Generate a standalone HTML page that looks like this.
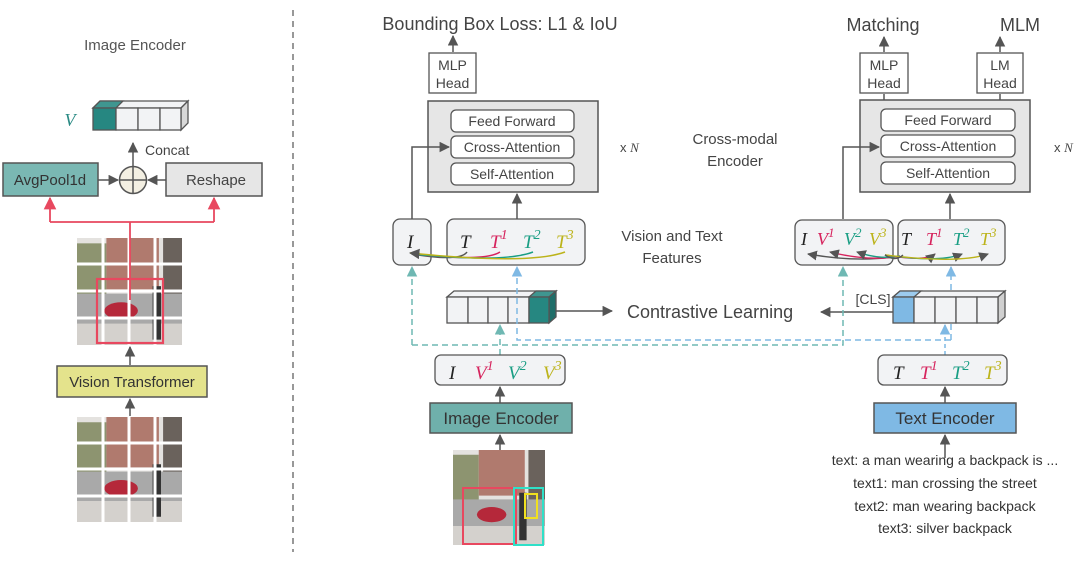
<!DOCTYPE html>
<html><head><meta charset="utf-8"><style>
html,body{margin:0;padding:0;background:#fff}
svg{display:block;font-family:"Liberation Sans",sans-serif}
.m{font-family:"Liberation Serif",serif;font-style:italic}
</style></head><body>
<svg width="1080" height="570" viewBox="0 0 1080 570" xmlns="http://www.w3.org/2000/svg">
<defs>
<marker id="a" viewBox="0 0 10 10" refX="9" refY="5" markerWidth="7" markerHeight="7" orient="auto-start-reverse"><path d="M0,0L10,5L0,10z" fill="#555"/></marker>
<marker id="ar" viewBox="0 0 10 10" refX="9" refY="5" markerWidth="7" markerHeight="7" orient="auto"><path d="M0,0L10,5L0,10z" fill="#e8485f"/></marker>
<marker id="at" viewBox="0 0 10 10" refX="9" refY="5" markerWidth="7" markerHeight="7" orient="auto"><path d="M0,0L10,5L0,10z" fill="#6fb8b3"/></marker>
<marker id="ab" viewBox="0 0 10 10" refX="9" refY="5" markerWidth="7" markerHeight="7" orient="auto"><path d="M0,0L10,5L0,10z" fill="#7fb9e4"/></marker>
<symbol id="ph" viewBox="0 0 100 100" preserveAspectRatio="none">
<rect width="100" height="100" fill="#e4e2df"/>
<rect x="0" y="5" width="28" height="50" fill="#8d9470"/>
<rect x="28" y="0" width="50" height="48" fill="#b07a6e"/>
<rect x="82" y="0" width="18" height="60" fill="#6a625c"/>
<rect x="0" y="52" width="100" height="30" fill="#a9a9a9"/>
<rect x="0" y="80" width="100" height="20" fill="#d4d1cd"/>
<ellipse cx="42" cy="68" rx="16" ry="8" fill="#b5283a"/>
<rect x="72" y="45" width="8" height="50" fill="#333"/>
</symbol>
</defs>

<!-- LEFT PANEL -->
<text x="135" y="50" font-size="15" fill="#555" text-anchor="middle">Image Encoder</text>
<text x="70" y="126" class="m" font-size="18" fill="#2a8a84" text-anchor="middle">V</text>
<g stroke="#555" stroke-width="1.3">
<path d="M93,108 L100,101 L188,101 L181,108z" fill="#f2f3f5"/>
<path d="M93,108 L100,101 L123,101 L116,108z" fill="#3f9690"/>
<path d="M181,108 L188,101 L188,123 L181,130z" fill="#d8d8d8"/>
<rect x="93" y="108" width="23" height="22" fill="#268781"/>
<rect x="116" y="108" width="22" height="22" fill="#f2f3f5"/>
<rect x="138" y="108" width="22" height="22" fill="#f2f3f5"/>
<rect x="160" y="108" width="21" height="22" fill="#f2f3f5"/>
</g>
<line x1="133" y1="166" x2="133" y2="143" stroke="#555" stroke-width="1.5" marker-end="url(#a)"/>
<text x="145" y="155" font-size="14" fill="#444">Concat</text>
<circle cx="133" cy="180" r="13.5" fill="#f3efe2" stroke="#555" stroke-width="1.5"/>
<path d="M119.5,180H146.5M133,166.5V193.5" stroke="#555" stroke-width="1.5"/>
<rect x="3" y="163" width="95" height="33" fill="#7ab8b3" stroke="#555" stroke-width="1.5"/>
<text x="50" y="185" font-size="15" fill="#333" text-anchor="middle">AvgPool1d</text>
<rect x="166" y="163" width="96" height="33" fill="#e6e6e6" stroke="#555" stroke-width="1.5"/>
<text x="216" y="185" font-size="15" fill="#444" text-anchor="middle">Reshape</text>
<line x1="98" y1="180" x2="118" y2="180" stroke="#555" stroke-width="1.5" marker-end="url(#a)"/>
<line x1="166" y1="180" x2="148" y2="180" stroke="#555" stroke-width="1.5" marker-end="url(#a)"/>
<use href="#ph" x="77" y="238" width="105" height="107"/>
<g stroke="#fff" stroke-width="3"><path d="M103,238V345M129,238V345M155,238V345M77,264H182M77,291H182M77,318H182"/></g>
<path d="M130,300V222M50,222H214" stroke="#e8485f" stroke-width="1.8" fill="none"/>
<line x1="50" y1="222" x2="50" y2="198" stroke="#e8485f" stroke-width="1.8" marker-end="url(#ar)"/>
<line x1="214" y1="222" x2="214" y2="198" stroke="#e8485f" stroke-width="1.8" marker-end="url(#ar)"/>
<rect x="97" y="279" width="66" height="64" fill="none" stroke="#e8485f" stroke-width="2.2"/>
<line x1="130" y1="365" x2="130" y2="347" stroke="#555" stroke-width="1.5" marker-end="url(#a)"/>
<rect x="57" y="366" width="150" height="31" fill="#e4e38c" stroke="#555" stroke-width="1.5"/>
<text x="132" y="387" font-size="15" fill="#333" text-anchor="middle">Vision Transformer</text>
<line x1="130" y1="416" x2="130" y2="399" stroke="#555" stroke-width="1.5" marker-end="url(#a)"/>
<use href="#ph" x="77" y="417" width="105" height="105"/>
<g stroke="#fff" stroke-width="3"><path d="M103,417V522M129,417V522M155,417V522M77,443H182M77,469H182M77,496H182"/></g>

<line x1="293" y1="10" x2="293" y2="552" stroke="#777" stroke-width="1.5" stroke-dasharray="6,5"/>

<!-- MIDDLE -->
<text x="500" y="30" font-size="18" fill="#444" text-anchor="middle">Bounding Box Loss: L1 &amp; IoU</text>
<line x1="453" y1="52" x2="453" y2="36" stroke="#555" stroke-width="1.5" marker-end="url(#a)"/>
<rect x="429" y="53" width="47" height="40" fill="#fff" stroke="#555" stroke-width="1.3"/>
<text x="452.5" y="70" font-size="14" fill="#444" text-anchor="middle">MLP</text>
<text x="452.5" y="88" font-size="14" fill="#444" text-anchor="middle">Head</text>
<rect x="428" y="101" width="170" height="91" fill="#e6e6e6" stroke="#555" stroke-width="1.5"/>
<g fill="#fff" stroke="#555" stroke-width="1.3">
<rect x="451" y="110" width="123" height="22" rx="5"/><rect x="451" y="136" width="123" height="22" rx="5"/><rect x="451" y="163" width="123" height="22" rx="5"/></g>
<g font-size="14" fill="#444" text-anchor="middle"><text x="512" y="126">Feed Forward</text><text x="512" y="152">Cross-Attention</text><text x="512" y="179">Self-Attention</text></g>
<text x="620" y="152" font-size="13" fill="#444">x <tspan class="m">N</tspan></text>
<text x="735" y="144" font-size="15" fill="#444" text-anchor="middle">Cross-modal</text>
<text x="735" y="166" font-size="15" fill="#444" text-anchor="middle">Encoder</text>

<path d="M412,219V147H449" stroke="#555" stroke-width="1.5" fill="none" marker-end="url(#a)"/>
<line x1="517" y1="219" x2="517" y2="194" stroke="#555" stroke-width="1.5" marker-end="url(#a)"/>
<rect x="393" y="219" width="38" height="46" rx="7" fill="#f2f3f5" stroke="#555" stroke-width="1.3"/>
<rect x="447" y="219" width="138" height="46" rx="7" fill="#f2f3f5" stroke="#555" stroke-width="1.3"/>
<g class="m" font-size="19"><text x="407" y="248" fill="#222">I</text>
<text x="460" y="248" fill="#222">T</text>
<text x="490" y="248" fill="#d6235d">T<tspan font-size="14" dy="-9">1</tspan></text>
<text x="523" y="248" fill="#1a9e84">T<tspan font-size="14" dy="-9">2</tspan></text>
<text x="556" y="248" fill="#bcb31a">T<tspan font-size="14" dy="-9">3</tspan></text></g>
<g fill="none" stroke-width="1.5">
<path d="M467,252 Q460,262 412,254" stroke="#555"/>
<path d="M500,252 Q485,262 412,254" stroke="#d6235d"/>
<path d="M533,252 Q505,263 412,254" stroke="#1a9e84"/>
<path d="M565,252 Q530,265 410,253" stroke="#bcb31a" marker-end="url(#a)"/></g>
<text x="672" y="241" font-size="15" fill="#444" text-anchor="middle">Vision and Text</text>
<text x="672" y="263" font-size="15" fill="#444" text-anchor="middle">Features</text>

<g stroke="#555" stroke-width="1.3">
<path d="M447,297 L454,291 L556,291 L549,297z" fill="#f2f3f5"/>
<path d="M529,297 L536,291 L556,291 L549,297z" fill="#3f9690"/>
<path d="M549,297 L556,291 L556,317 L549,323z" fill="#1f6e69"/>
<rect x="447" y="297" width="21" height="26" fill="#f2f3f5"/><rect x="468" y="297" width="20" height="26" fill="#f2f3f5"/><rect x="488" y="297" width="20" height="26" fill="#f2f3f5"/><rect x="508" y="297" width="21" height="26" fill="#f2f3f5"/><rect x="529" y="297" width="20" height="26" fill="#268781"/></g>
<line x1="556" y1="311" x2="612" y2="311" stroke="#555" stroke-width="1.5" marker-end="url(#a)"/>
<text x="627" y="318" font-size="18" fill="#444">Contrastive Learning</text>
<line x1="893" y1="312" x2="821" y2="312" stroke="#555" stroke-width="1.5" marker-end="url(#a)"/>

<!-- dashed connectors -->
<path d="M412,345V267" stroke="#6fb8b3" stroke-width="1.5" fill="none" stroke-dasharray="6,4" marker-end="url(#at)"/>
<path d="M412,345H843V267" stroke="#6fb8b3" stroke-width="1.5" fill="none" stroke-dasharray="6,4" marker-end="url(#at)"/>
<path d="M500,355V325" stroke="#6fb8b3" stroke-width="1.5" fill="none" stroke-dasharray="6,4" marker-end="url(#at)"/>
<path d="M951,340H517V267" stroke="#7fb9e4" stroke-width="1.5" fill="none" stroke-dasharray="6,4" marker-end="url(#ab)"/>
<path d="M951,340V267" stroke="#7fb9e4" stroke-width="1.5" fill="none" stroke-dasharray="6,4" marker-end="url(#ab)"/>
<path d="M945,355V325" stroke="#7fb9e4" stroke-width="1.5" fill="none" stroke-dasharray="4,3" marker-end="url(#ab)"/>

<rect x="435" y="355" width="130" height="30" rx="6" fill="#f2f3f5" stroke="#555" stroke-width="1.3"/>
<g class="m" font-size="19"><text x="449" y="379" fill="#222">I</text>
<text x="475" y="379" fill="#d6235d">V<tspan font-size="14" dy="-9">1</tspan></text>
<text x="508" y="379" fill="#1a9e84">V<tspan font-size="14" dy="-9">2</tspan></text>
<text x="543" y="379" fill="#bcb31a">V<tspan font-size="14" dy="-9">3</tspan></text></g>
<line x1="500" y1="403" x2="500" y2="387" stroke="#555" stroke-width="1.5" marker-end="url(#a)"/>
<rect x="430" y="403" width="142" height="30" fill="#6fb0ab" stroke="#555" stroke-width="1.5"/>
<text x="501" y="424" font-size="17" fill="#333" text-anchor="middle">Image Encoder</text>
<line x1="500" y1="450" x2="500" y2="435" stroke="#555" stroke-width="1.5" marker-end="url(#a)"/>
<use href="#ph" x="453" y="450" width="92" height="95"/>
<rect x="463" y="488" width="53" height="56" fill="none" stroke="#e8485f" stroke-width="2"/>
<rect x="514" y="488" width="29" height="57" fill="none" stroke="#2fe0c8" stroke-width="2"/>
<rect x="525" y="494" width="12" height="24" fill="none" stroke="#f0e020" stroke-width="2"/>

<!-- RIGHT -->
<text x="883" y="31" font-size="18" fill="#444" text-anchor="middle">Matching</text>
<text x="1020" y="31" font-size="18" fill="#444" text-anchor="middle">MLM</text>
<line x1="884" y1="52" x2="884" y2="37" stroke="#555" stroke-width="1.5" marker-end="url(#a)"/>
<line x1="1000" y1="52" x2="1000" y2="37" stroke="#555" stroke-width="1.5" marker-end="url(#a)"/>
<rect x="860" y="53" width="48" height="40" fill="#fff" stroke="#555" stroke-width="1.3"/>
<text x="884" y="70" font-size="14" fill="#444" text-anchor="middle">MLP</text>
<text x="884" y="88" font-size="14" fill="#444" text-anchor="middle">Head</text>
<rect x="977" y="53" width="46" height="40" fill="#fff" stroke="#555" stroke-width="1.3"/>
<text x="1000" y="70" font-size="14" fill="#444" text-anchor="middle">LM</text>
<text x="1000" y="88" font-size="14" fill="#444" text-anchor="middle">Head</text>
<line x1="884" y1="100" x2="884" y2="94" stroke="#555" stroke-width="1.5"/>
<line x1="1000" y1="100" x2="1000" y2="94" stroke="#555" stroke-width="1.5"/>
<rect x="860" y="100" width="170" height="92" fill="#e6e6e6" stroke="#555" stroke-width="1.5"/>
<g fill="#fff" stroke="#555" stroke-width="1.3">
<rect x="881" y="109" width="134" height="22" rx="5"/><rect x="881" y="135" width="134" height="22" rx="5"/><rect x="881" y="162" width="134" height="22" rx="5"/></g>
<g font-size="14" fill="#444" text-anchor="middle"><text x="948" y="125">Feed Forward</text><text x="948" y="151">Cross-Attention</text><text x="948" y="178">Self-Attention</text></g>
<text x="1054" y="152" font-size="13" fill="#444">x <tspan class="m">N</tspan></text>
<path d="M843,219V147H879" stroke="#555" stroke-width="1.5" fill="none" marker-end="url(#a)"/>
<line x1="950" y1="219" x2="950" y2="194" stroke="#555" stroke-width="1.5" marker-end="url(#a)"/>
<rect x="795" y="220" width="98" height="45" rx="7" fill="#f2f3f5" stroke="#555" stroke-width="1.3"/>
<rect x="898" y="220" width="107" height="45" rx="7" fill="#f2f3f5" stroke="#555" stroke-width="1.3"/>
<g class="m" font-size="18"><text x="801" y="245" fill="#222">I</text>
<text x="817" y="245" fill="#d6235d">V<tspan font-size="13" dy="-8">1</tspan></text>
<text x="844" y="245" fill="#1a9e84">V<tspan font-size="13" dy="-8">2</tspan></text>
<text x="869" y="245" fill="#bcb31a">V<tspan font-size="13" dy="-8">3</tspan></text>
<text x="901" y="245" fill="#222">T</text>
<text x="926" y="245" fill="#d6235d">T<tspan font-size="13" dy="-8">1</tspan></text>
<text x="953" y="245" fill="#1a9e84">T<tspan font-size="13" dy="-8">2</tspan></text>
<text x="980" y="245" fill="#bcb31a">T<tspan font-size="13" dy="-8">3</tspan></text></g>
<g fill="none" stroke-width="1.4">
<path d="M900,256 Q860,263 808,254" stroke="#555" marker-end="url(#a)"/>
<path d="M900,256 Q870,262 830,252" stroke="#d6235d" marker-end="url(#a)"/>
<path d="M900,256 Q880,260 857,252" stroke="#1a9e84" marker-end="url(#a)"/>
<path d="M885,255 Q925,262 935,254" stroke="#d6235d" marker-end="url(#a)"/>
<path d="M885,255 Q940,263 962,254" stroke="#1a9e84" marker-end="url(#a)"/>
<path d="M885,255 Q960,264 988,254" stroke="#bcb31a" marker-end="url(#a)"/>
<path d="M885,255 Q895,262 903,255" stroke="#555"/></g>
<text x="873" y="304" font-size="14" fill="#444" text-anchor="middle">[CLS]</text>
<g stroke="#555" stroke-width="1.3">
<path d="M893,297 L900,291 L1005,291 L998,297z" fill="#f2f3f5"/>
<path d="M893,297 L900,291 L921,291 L914,297z" fill="#9ccbee"/>
<path d="M998,297 L1005,291 L1005,317 L998,323z" fill="#d0d0d0"/>
<rect x="893" y="297" width="21" height="26" fill="#7fb9e4"/><rect x="914" y="297" width="21" height="26" fill="#f2f3f5"/><rect x="935" y="297" width="21" height="26" fill="#f2f3f5"/><rect x="956" y="297" width="21" height="26" fill="#f2f3f5"/><rect x="977" y="297" width="21" height="26" fill="#f2f3f5"/></g>
<rect x="878" y="355" width="129" height="30" rx="6" fill="#f2f3f5" stroke="#555" stroke-width="1.3"/>
<g class="m" font-size="19"><text x="893" y="379" fill="#222">T</text>
<text x="920" y="379" fill="#d6235d">T<tspan font-size="14" dy="-9">1</tspan></text>
<text x="952" y="379" fill="#1a9e84">T<tspan font-size="14" dy="-9">2</tspan></text>
<text x="984" y="379" fill="#bcb31a">T<tspan font-size="14" dy="-9">3</tspan></text></g>
<line x1="945" y1="403" x2="945" y2="387" stroke="#555" stroke-width="1.5" marker-end="url(#a)"/>
<rect x="874" y="403" width="142" height="30" fill="#7fb9e4" stroke="#555" stroke-width="1.5"/>
<text x="945" y="424" font-size="17" fill="#333" text-anchor="middle">Text Encoder</text>
<line x1="945" y1="458" x2="945" y2="435" stroke="#555" stroke-width="1.5" marker-end="url(#a)"/>
<g font-size="14" fill="#333" text-anchor="middle">
<text x="945" y="465">text: a man wearing a backpack is ...</text>
<text x="945" y="488">text1: man crossing the street</text>
<text x="945" y="511">text2: man wearing backpack</text>
<text x="945" y="533">text3: silver backpack</text></g>
</svg>
</body></html>
